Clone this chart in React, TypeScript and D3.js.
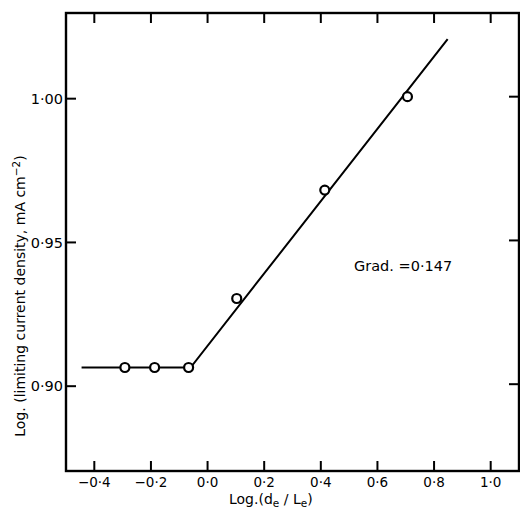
import React from 'react';
import * as d3 from 'd3';

// measured points: log(de/Le) vs log(limiting current density)
const pointX = [-0.292, -0.187, -0.067, 0.103, 0.414, 0.706];
const pointY = [0.9065, 0.9065, 0.9065, 0.9305, 0.9682, 1.0007];

// fitted line (plateau then gradient)
const lineX = [-0.445, -0.06, 0.848];
const lineY = [0.9065, 0.9065, 1.0207];

const xTicks = [-0.4, -0.2, 0.0, 0.2, 0.4, 0.6, 0.8, 1.0];
const xTickLabels = ['−0·4', '−0·2', '0·0', '0·2', '0·4', '0·6', '0·8', '1·0'];
const yTicks = [0.9, 0.95, 1.0];
const yTickLabels = ['0·90', '0·95', '1·00'];

const W = 520;
const H = 510;
const margin = { top: 13, right: 1, bottom: 39, left: 66 };
const font = '"DejaVu Sans", sans-serif';

const App = () => {
  const x = d3.scaleLinear()
    .domain([-0.5, 1.1])
    .range([margin.left, W - margin.right]);
  const y = d3.scaleLinear()
    .domain([0.8705, 1.0298])
    .range([H - margin.bottom, margin.top]);

  const x0 = x.range()[0];
  const x1 = x.range()[1];
  const y0 = y.range()[0];
  const y1 = y.range()[1];
  const tickLen = 10;

  const line = d3.line<number>()
    .x((d, i) => x(d))
    .y((d, i) => y(lineY[i]));

  return (
    <svg width={W} height={H} style={{ position: 'absolute', left: 0, top: 0, background: '#fff' }}>
      {/* frame */}
      <rect x={x0} y={y1} width={x1 - x0} height={y0 - y1} fill="none" stroke="#000" strokeWidth={2.4} />

      {/* x ticks, bottom and top, pointing in */}
      {xTicks.map((t, i) => (
        <g key={'xt' + i}>
          <line x1={x(t)} x2={x(t)} y1={y0} y2={y0 - tickLen} stroke="#000" strokeWidth={2} />
          <line x1={x(t)} x2={x(t)} y1={y1} y2={y1 + tickLen} stroke="#000" strokeWidth={2} />
          <text x={x(t)} y={y0 + 16} textAnchor="middle" fontFamily={font} fontSize={13.5}>
            {xTickLabels[i]}
          </text>
        </g>
      ))}

      {/* y ticks, left and right, pointing in */}
      {yTicks.map((t, i) => (
        <g key={'yt' + i}>
          <line x1={x0} x2={x0 + tickLen} y1={y(t)} y2={y(t)} stroke="#000" strokeWidth={2} />
          <line x1={x1} x2={x1 - tickLen} y1={y(t) - 2} y2={y(t) - 2} stroke="#000" strokeWidth={2} />
          <text x={x0 - 3} y={y(t)} dy="0.35em" textAnchor="end" fontFamily={font} fontSize={14.5}>
            {yTickLabels[i]}
          </text>
        </g>
      ))}

      {/* fitted line */}
      <path d={line(lineX) || ''} fill="none" stroke="#000" strokeWidth={2} />

      {/* data points */}
      {pointX.map((d, i) => (
        <circle key={'p' + i} cx={x(d)} cy={y(pointY[i])} r={4.5} fill="#fff" stroke="#000" strokeWidth={2.2} />
      ))}

      {/* gradient annotation */}
      <text x={354} y={271} fontFamily={font} fontSize={14.5}>Grad. =0·147</text>

      {/* axis titles */}
      <text x={229} y={504} fontFamily={font} fontSize={14}>
        Log.(d<tspan dy={3} fontSize={10.5}>e</tspan><tspan dy={-3}> / L</tspan><tspan dy={3} fontSize={10.5}>e</tspan><tspan dy={-3}>)</tspan>
      </text>
      <text
        transform={`translate(25, 296) rotate(-90)`}
        textAnchor="middle"
        fontFamily={font}
        fontSize={14}
      >
        Log. (limiting current density, mA cm<tspan dy={-5} fontSize={10.5}>−2</tspan><tspan dy={5}>)</tspan>
      </text>
    </svg>
  );
};

export default App;
